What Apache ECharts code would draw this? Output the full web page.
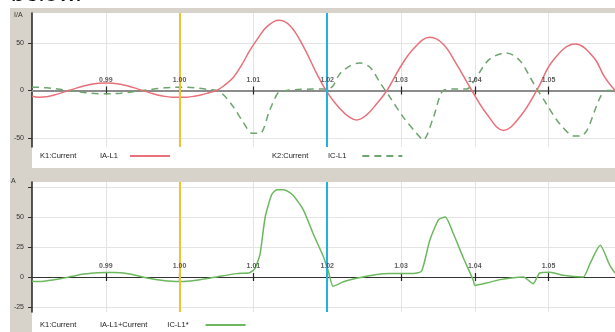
<!DOCTYPE html>
<html>
<head>
<meta charset="utf-8">
<script src="https://cdn.jsdelivr.net/npm/echarts@6/dist/echarts.min.js"></script>
<style>
html,body{margin:0;padding:0;background:#fff;}
#c{width:615px;height:332px;}
</style>
</head>
<body>
<div id="c"></div>
<script>
// ---- data (time in ms, current in A) ----
const xTicks = [0.99, 1.00, 1.01, 1.02, 1.03, 1.04, 1.05];
const yTicksTop = [-50, 0, 50];
const yTicksBottom = [-25, 0, 25, 50, 75];
const yLabelsBottom = [-25, 0, 25, 50];
const cursorTimes = [1.005, 1.025];

const iaTime = [980,981,982,983,984,985,986,987,988,989,990,991,992,993,994,995,996,997,998,999,1000,1001,1002,1003,1004,1005,
  1006,1007.3,1008.5,1009.5,1010.7,1011.8,1013.4,1015,1016.8,1018.6,1020,1021.7,1023,1024,1025.3,1026.7,1028.1,1029.9,1031.7,1033.9,1035.7,1037.5,1039.6,1041.6,1043.9,1046.1,1048.4,1050.6,1053.6,1056.1,1057.6,1059];
const iaL1 = [-6,-7,-6.5,-4.7,-2.5,0,2.5,4.7,6.5,7.6,8,7.6,6.5,4.7,2.5,0,-2.5,-4.7,-6.2,-7,-7.2,-7,-6,-4.5,-2.3,0,
  5,14,28,42,56,67,74,68,46,17.5,-2,-19,-28,-31,-26,-14,0,24.5,44,56,49,28,0,-24.5,-42,-28,0,31.6,49,35,14,0];

const icTime = [980,981,982,983,984,985,986,987,988,989,990,991,992,993,994,995,996,997,998,999,1000,1001,1002,1003,1004,1005,
  1006,1007.3,1008.6,1009.8,1010.9,1012.2,1013.4,1014.5,1016,1018,1020,1020.8,1021.7,1023.1,1024.4,1025.8,1027.1,1028.5,1030.3,1032.1,1033,1034.4,1035.7,1037,1038.9,1040.2,1042,1044.3,1046.1,1048,1049.7,1051.5,1053.5,1054.3,1055.2,1057,1057.9,1059];
const icL1 = [3.5,3.3,2.8,2,1,0,-1,-2,-2.8,-3.3,-3.5,-3.3,-2.8,-2,-1,0,1,2,2.8,3.3,3.5,3.3,2.8,2,1,0,
  -5,-17.5,-33,-45,-45,-21,-2,0,1,1.5,1.5,5,17.5,26,29,24.5,9,-7,-28,-45,-52,-28,0,1.5,1.5,14,33,39.6,31.6,7,-14,-35,-48,-48,-42,-7,0,0];

const sumTime = [980,981,982,983,984,985,986,987,988,989,990,991,992,993,994,995,996,997,998,999,1000,1001,1002,1003,1004,1005,
  1007.7,1009.5,1010.2,1010.9,1011.6,1012.5,1013.2,1014.1,1015.4,1016.8,1018.1,1019.5,1020.2,1020.8,1022.2,1023.5,1024.9,1026.7,1028.5,1031.7,1032.8,1033.9,1035.1,1036,1037.1,1038.4,1039.8,1040,1041.6,1043.4,1045.2,1046.6,1047.9,1048.8,1050.2,1052,1054.7,1055.6,1057,1058.3,1059];
const sumVal = [-3.5,-3.8,-3.2,-2.4,-1.3,0,1.3,2.4,3.2,3.6,3.7,3.7,3.5,2.6,1.4,0,-1.3,-2.4,-3.2,-3.6,-3.8,-3.6,-3,-2,-1,0,
  2.8,3.6,7,19,50,69,72.8,72.8,68,55.6,36,16.7,4,-7.8,-4,-1.7,0,2,2.8,2.8,5,30.6,47.8,50,36,16.7,-2.8,-7,-5,-2.2,-0.6,0,-5.6,3.3,4,1.4,0,11,26.4,9.7,3.3];

const toPairs = (ts, vs) => ts.map((t, i) => [t / 1000, vs[i]]);

const FONT = '"Liberation Sans", Arial, sans-serif';
const LEG_FS = 7.5;
const chart = echarts.init(document.getElementById('c'), null, {renderer: 'canvas'});

function xAxes(grid, yIdx, lineColor, lineWidth) {
  const base = {
    gridIndex: grid, type: 'value', min: 0.98, max: 1.059, interval: 0.01,
    axisLabel: {show: false}
  };
  return [
    Object.assign({}, base, {
      position: 'top',
      axisLine: {show: true, onZero: true, onZeroAxisIndex: yIdx, lineStyle: {color: lineColor, width: lineWidth}},
      axisTick: {show: true, length: 4, customValues: xTicks, lineStyle: {color: '#222', width: 1.2}},
      splitLine: {show: true, lineStyle: {color: '#e4e4e4', width: 1}}
    }),
    Object.assign({}, base, {
      position: 'bottom',
      axisLine: {show: true, onZero: true, onZeroAxisIndex: yIdx, lineStyle: {color: lineColor, width: lineWidth}},
      axisTick: {show: true, length: 4, customValues: xTicks, lineStyle: {color: '#222', width: 1.2}},
      splitLine: {show: false}
    })
  ];
}

function yAxis(grid, min, max, ticks, labels) {
  return {
    gridIndex: grid, type: 'value', min: min, max: max,
    axisLine: {show: true, onZero: false, lineStyle: {color: '#222', width: 1.5}},
    axisTick: {show: true, length: 4, customValues: ticks, lineStyle: {color: '#333'}},
    axisLabel: {show: true, customValues: labels, margin: 8, fontSize: 7, fontFamily: FONT, color: '#333'},
    splitLine: {show: true, lineStyle: {color: '#e4e4e4'}}
  };
}

// x tick labels sitting above the zero line (as in the original)
function tickLabelSeries(xIdx, yIdx) {
  return {
    type: 'scatter', xAxisIndex: xIdx, yAxisIndex: yIdx, silent: true,
    symbol: 'circle', symbolSize: 0,
    data: xTicks.map(t => [t, 0]),
    label: {show: true, position: 'top', distance: 7, fontSize: 7, fontWeight: 'bold', fontFamily: FONT, color: '#333',
      formatter: p => p.value[0].toFixed(2)},
    z: 5
  };
}

const cursorLine = {
  silent: true, symbol: 'none', label: {show: false},
  data: [
    {xAxis: cursorTimes[0], lineStyle: {color: '#f2c230', width: 2, type: 'solid'}},
    {xAxis: cursorTimes[1], lineStyle: {color: '#22b2e2', width: 2, type: 'solid'}}
  ]
};

// legend: series name text, then the line icon to its right
function legend(left, top, seriesName, parts, padRight) {
  const rich = {};
  let fmt = '';
  parts.forEach((p, i) => {
    rich['p' + i] = {fontSize: LEG_FS, fontFamily: FONT, color: '#222', padding: [0, padRight[i], 0, 0]};
    fmt += '{p' + i + '|' + p + '}';
  });
  return {
    left: left, top: top, orient: 'horizontal', align: 'right',
    itemWidth: 40, itemHeight: 8, padding: 0,
    data: [seriesName], selectedMode: false,
    itemStyle: {opacity: 0},
    formatter: () => fmt,
    textStyle: {rich: rich, fontSize: LEG_FS, fontFamily: FONT, color: '#222'}
  };
}

const option = {
  animation: false,
  backgroundColor: 'transparent',
  graphic: [
    {type: 'rect', shape: {x: 10, y: 8, width: 605, height: 324}, style: {fill: '#d7d3cb'}, z: -10},
    {type: 'rect', shape: {x: 32, y: 147, width: 583, height: 21}, style: {fill: '#ffffff'}, z: -9},
    {type: 'rect', shape: {x: 32, y: 312, width: 583, height: 20}, style: {fill: '#ffffff'}, z: -9},
    {type: 'text', x: 11, y: 7, z: 10,
      style: {text: 'below.', fontSize: 25, fontFamily: FONT, fill: '#111', verticalAlign: 'bottom', textVerticalAlign: 'bottom'}},
    {type: 'text', x: 14, y: 12, style: {text: 'I/A', fontSize: 7, fontFamily: FONT, fill: '#333'}},
    {type: 'text', x: 11, y: 178, style: {text: 'A', fontSize: 7, fontFamily: FONT, fill: '#333'}},
    {type: 'text', x: 40, y: 156, style: {text: 'K1:Current', fontSize: LEG_FS, fontFamily: FONT, fill: '#222', verticalAlign: 'middle', textVerticalAlign: 'middle'}},
    {type: 'text', x: 272, y: 156, style: {text: 'K2:Current', fontSize: LEG_FS, fontFamily: FONT, fill: '#222', verticalAlign: 'middle', textVerticalAlign: 'middle'}},
    {type: 'text', x: 40, y: 325, style: {text: 'K1:Current', fontSize: LEG_FS, fontFamily: FONT, fill: '#222', verticalAlign: 'middle', textVerticalAlign: 'middle'}}
  ],
  grid: [
    {left: 32, top: 13, width: 583, height: 134, show: true, backgroundColor: '#ffffff', borderWidth: 0},
    {left: 32, top: 182, width: 583, height: 130, show: true, backgroundColor: '#ffffff', borderWidth: 0}
  ],
  xAxis: xAxes(0, 0, '#8c8c8c', 2).concat(xAxes(1, 1, '#333', 1.2)),
  yAxis: [
    yAxis(0, -59.5, 81.6, yTicksTop, yTicksTop),
    yAxis(1, -29.2, 79.2, yTicksBottom, yLabelsBottom)
  ],
  legend: [
    legend(100, 152, 'IA-L1', ['IA-L1'], [7]),
    legend(328, 152, 'IC-L1', ['IC-L1'], [11]),
    legend(100, 321, 'IA-L1+Current IC-L1*', ['IA-L1+Current', 'IC-L1*'], [20, 12])
  ],
  series: [
    {
      name: 'IA-L1', type: 'line', xAxisIndex: 0, yAxisIndex: 0, symbol: 'none', smooth: 0.4,
      lineStyle: {color: '#e8707a', width: 1.5}, itemStyle: {color: '#e8707a'},
      data: toPairs(iaTime, iaL1), markLine: cursorLine, z: 3
    },
    {
      name: 'IC-L1', type: 'line', xAxisIndex: 0, yAxisIndex: 0, symbol: 'none', smooth: 0.3,
      lineStyle: {color: '#6ea56e', width: 1.5, type: [7, 5]}, itemStyle: {color: '#6ea56e'},
      data: toPairs(icTime, icL1), z: 2
    },
    {
      name: 'IA-L1+Current IC-L1*', type: 'line', xAxisIndex: 2, yAxisIndex: 1, symbol: 'none', smooth: 0.2,
      lineStyle: {color: '#6cb85e', width: 1.5}, itemStyle: {color: '#6cb85e'},
      data: toPairs(sumTime, sumVal), markLine: cursorLine, z: 3
    },
    tickLabelSeries(0, 0),
    tickLabelSeries(2, 1)
  ]
};
chart.setOption(option);
</script>
</body>
</html>
